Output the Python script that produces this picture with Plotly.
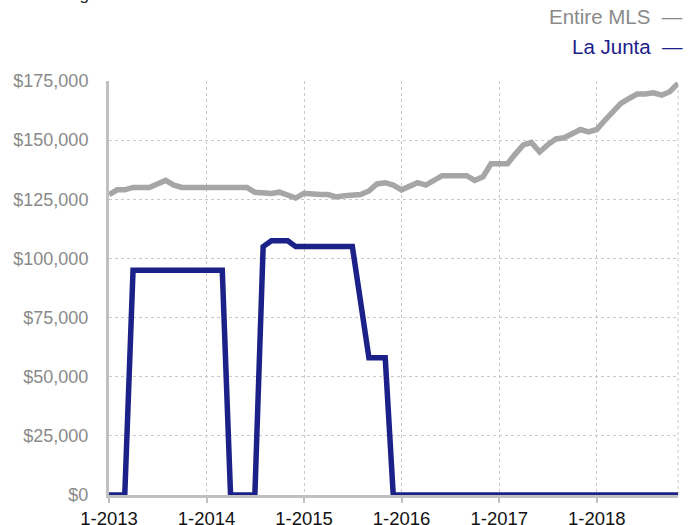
import pandas as pd
import plotly.graph_objects as go

months = pd.date_range("2013-01-01", "2018-11-01", freq="MS")

entire_mls = [
    127000, 129000, 129000, 130000, 130000, 130000, 131500, 133000, 131000, 130000,
    130000, 130000, 130000, 130000, 130000, 130000, 130000, 130000, 128000, 127500,
    127500, 128000, 127000, 125500, 127500, 127000, 127000, 127000, 126000, 126500,
    126500, 127000, 128500, 131500, 132000, 131000, 129000, 130500, 132000, 131000,
    133000, 135000, 135000, 135000, 135000, 133000, 134500, 140000, 140000, 140000,
    144000, 148000, 149000, 145000, 148000, 150500, 151000, 152500, 154500, 153500,
    154500, 158500, 162000, 165500, 167500, 169500, 169500, 170000, 169000, 170500,
    174000,
]

la_junta = [
    0, 0, 0, 95000, 95000, 95000, 95000, 95000, 95000, 95000,
    95000, 95000, 95000, 95000, 95000, 0, 0, 0, 0, 105000,
    107500, 107500, 107500, 105000, 105000, 105000, 105000, 105000, 105000, 105000,
    105000, 81500, 58000, 58000, 58000, 0, 0, 0, 0, 0,
    0, 0, 0, 0, 0, 0, 0, 0, 0, 0,
    0, 0, 0, 0, 0, 0, 0, 0, 0, 0,
    0, 0, 0, 0, 0, 0, 0, 0, 0, 0,
    0,
]

y_ticks = [0, 25000, 50000, 75000, 100000, 125000, 150000, 175000]
y_tick_text = ["$0", "$25,000", "$50,000", "$75,000", "$100,000", "$125,000", "$150,000", "$175,000"]
x_tick_vals = ["2013-01-01", "2014-01-01", "2015-01-01", "2016-01-01", "2017-01-01", "2018-01-01"]
x_tick_text = ["1-2013", "1-2014", "1-2015", "1-2016", "1-2017", "1-2018"]

GREY = "#a6a6a6"
NAVY = "#1b2189"
FONT = "Liberation Sans, Arial, Helvetica, sans-serif"

fig = go.Figure()
fig.add_trace(go.Scatter(x=months, y=entire_mls, mode="lines", name="Entire MLS",
                         line=dict(color=GREY, width=5.5)))
fig.add_trace(go.Scatter(x=months, y=la_junta, mode="lines", name="La Junta",
                         line=dict(color=NAVY, width=5.5)))

fig.update_layout(
    width=693, height=525,
    margin=dict(l=109, r=15, t=81, b=30),
    paper_bgcolor="white", plot_bgcolor="white",
    showlegend=False,
    font=dict(family=FONT),
    xaxis=dict(
        type="date",
        range=[months[0], months[-1]],
        tickvals=x_tick_vals, ticktext=x_tick_text,
        tickfont=dict(size=18.5, color="#111111"),
        ticks="outside", ticklen=5, tickwidth=2, tickcolor="#c0c0c0",
        showgrid=True, gridcolor="#c8c8c8", gridwidth=1, griddash="dot",
        showline=True, linecolor="#c0c0c0", linewidth=3,
        zeroline=False, automargin=False,
    ),
    yaxis=dict(
        range=[0, 175000],
        tickvals=y_ticks, ticktext=y_tick_text,
        tickfont=dict(size=18, color="#8a8a8a"),
        ticklabelstandoff=14,
        showgrid=True, gridcolor="#c8c8c8", gridwidth=1, griddash="dot",
        showline=True, linecolor="#c0c0c0", linewidth=3,
        zeroline=False, automargin=False,
    ),
)

# right dotted border of the plot area
fig.add_shape(type="line", xref="paper", yref="paper", x0=1, x1=1, y0=0, y1=1,
              line=dict(color="#c8c8c8", width=1, dash="dot"), layer="below")

# legend as right-aligned text with trailing dash
fig.add_annotation(xref="paper", yref="paper", x=1.013, y=1.155, xanchor="right", yanchor="middle",
                   text="Entire MLS  \u2014", showarrow=False,
                   font=dict(size=20.5, color="#8a8a8a", family=FONT))
fig.add_annotation(xref="paper", yref="paper", x=1.013, y=1.083, xanchor="right", yanchor="middle",
                   text="La Junta  \u2014", showarrow=False,
                   font=dict(size=20.5, color=NAVY, family=FONT))

# subtitle partly cut off at the top edge
fig.add_annotation(xref="paper", yref="paper", x=-0.13, y=1.2089, xanchor="left", yanchor="middle",
                   text="Rolling 12-Month Calculation", showarrow=False,
                   font=dict(size=17, color="#222222", family=FONT))

fig.write_html("out.html", config={"displayModeBar": False},
               post_script="document.body.style.margin='0';document.body.style.overflow='hidden';")
